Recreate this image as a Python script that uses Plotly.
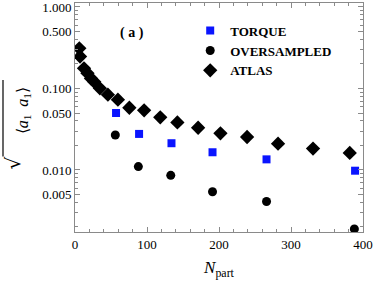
import plotly.graph_objects as go

# ---- data ----
torque_x = [57, 89, 134, 191, 266, 389]
torque_y = [0.050, 0.0277, 0.0213, 0.0165, 0.0135, 0.0098]

over_x = [56, 88, 133, 191, 266, 388]
over_y = [0.0269, 0.0110, 0.0086, 0.0054, 0.0041, 0.00189]

atlas_x = [6, 7, 12.5, 17.3, 22.2, 26.7, 34.6, 45.7, 59.6, 75.5, 96, 118.4,
           142.2, 171, 202, 239, 282, 330.6, 381.6]
atlas_y = [0.311, 0.247, 0.177, 0.154, 0.133, 0.121, 0.1005, 0.084, 0.073,
           0.058, 0.054, 0.0443, 0.0383, 0.033, 0.0282, 0.0254, 0.021,
           0.0183, 0.0162]

y_tickvals = [0.005, 0.01, 0.05, 0.1, 0.5, 1.0]
y_ticktext = ["0.005", "0.010", "0.050", "0.100", "0.500", "1.000"]
x_tickvals = [0, 100, 200, 300, 400]

FONT = "Liberation Serif"
AX = "#8a8a8a"

fig = go.Figure()
fig.add_trace(go.Scatter(x=torque_x, y=torque_y, mode="markers", name="TORQUE",
                         marker=dict(symbol="square", size=8, color="#0a14ff")))
fig.add_trace(go.Scatter(x=over_x, y=over_y, mode="markers", name="OVERSAMPLED",
                         marker=dict(symbol="circle", size=9, color="black")))
fig.add_trace(go.Scatter(x=atlas_x, y=atlas_y, mode="markers", name="ATLAS",
                         marker=dict(symbol="diamond", size=11, color="black")))

minor_y = []
for dec in [0.001, 0.01, 0.1]:
    for k in range(2, 10):
        minor_y.append(k * dec)

fig.update_layout(
    width=374, height=285,
    margin=dict(l=75, r=11, t=3, b=53),
    paper_bgcolor="white", plot_bgcolor="white",
    font=dict(family=FONT, size=13, color="black"),
    showlegend=True,
    legend=dict(x=0.4, y=0.945, xanchor="left", yanchor="top",
                bgcolor="rgba(0,0,0,0)", borderwidth=0,
                font=dict(family=FONT, size=13, color="black", weight="bold"),
                itemclick=False),
    xaxis=dict(range=[0, 400], tickvals=x_tickvals, ticks="inside", ticklen=5,
               tickcolor=AX, linecolor=AX, linewidth=1, mirror="allticks",
               showline=True, showgrid=False, zeroline=False, automargin=False,
               ticklabeloverflow="allow",
               minor=dict(dtick=20, ticks="inside", ticklen=3, tickcolor=AX),
               tickfont=dict(family=FONT, size=13),
               title=dict(text="<i>N</i><sub>part</sub>",
                          font=dict(family=FONT, size=17), standoff=10)),
    yaxis=dict(type="log", range=[-2.761, 0.049], tickvals=y_tickvals,
               ticktext=y_ticktext, ticks="inside", ticklen=5, tickcolor=AX,
               linecolor=AX, linewidth=1, mirror="allticks", showline=True,
               showgrid=False, zeroline=False, automargin=False,
               ticklabeloverflow="allow",
               minor=dict(tickvals=minor_y, ticks="inside", ticklen=3, tickcolor=AX),
               tickfont=dict(family=FONT, size=13)),
)

# y-axis title: sqrt(<a1 a1>)
fig.add_annotation(xref="paper", yref="paper", x=-0.178, y=0.53,
                   text="⟨<i>a</i><sub>1</sub>  <i>a</i><sub>1</sub>⟩",
                   textangle=-90, showarrow=False,
                   font=dict(family=FONT, size=16), xanchor="center", yanchor="middle")
fig.add_annotation(xref="paper", yref="paper", x=-0.215, y=0.30,
                   text="√", textangle=-90, showarrow=False,
                   font=dict(family="DejaVu Serif", size=20), xanchor="center", yanchor="middle")
fig.add_shape(type="line", xref="paper", yref="paper",
              x0=-0.25, x1=-0.25, y0=0.33, y1=0.664,
              line=dict(color="black", width=1.2))

# panel label
fig.add_annotation(xref="paper", yref="paper", x=0.197, y=0.87,
                   text="<b>( a )</b>", showarrow=False,
                   font=dict(family=FONT, size=14), xanchor="center", yanchor="middle")

fig.write_html("out.html", config={"displayModeBar": False},
               post_script="document.body.style.margin='0';document.body.style.padding='0';")
